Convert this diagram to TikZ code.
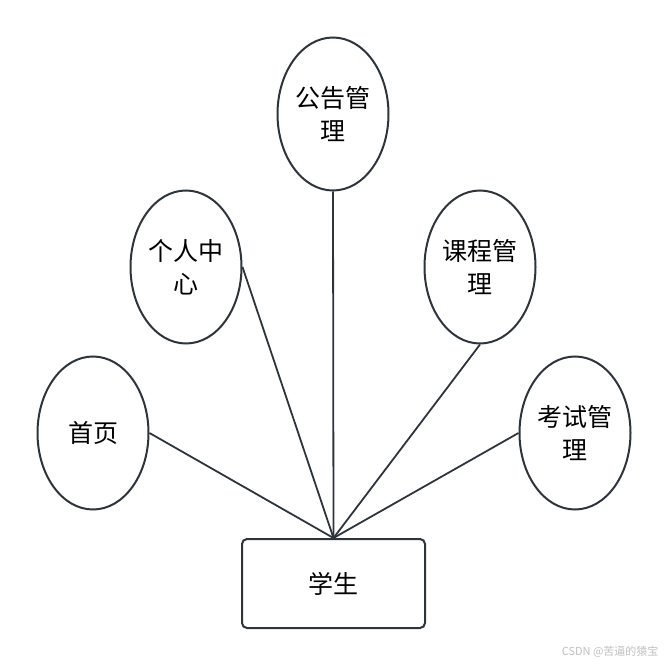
\documentclass[tikz,border=0pt]{standalone}
\usepackage{fontspec}
\usetikzlibrary{shapes.geometric}
\setmainfont{Noto Sans CJK SC}
\definecolor{edgegray}{RGB}{45,52,60}

\begin{document}
\begin{tikzpicture}[x=1pt, y=-1pt,
    func/.style={ellipse, draw=edgegray, line width=2pt, minimum width=111pt, minimum height=153pt, inner sep=0pt, align=center, font=\fontsize{25}{33}\selectfont},
    role/.style={rectangle, rounded corners=5pt, draw=edgegray, line width=2pt, minimum width=183pt, minimum height=89pt, font=\fontsize{25}{33}\selectfont},
    link/.style={draw=edgegray, line width=1.8pt}]
    \useasboundingbox (0, 0) rectangle (667, 666);

    % Draw the role box
    \node[role] (student) at (333.5, 583.5) {学生};

    % Draw the function ellipses
    \node[func] (notice) at (333, 114) {公告管\\理};
    \node[func] (personal) at (186, 267) {个人中\\心};
    \node[func] (course) at (480, 267) {课程管\\理};
    \node[func] (home) at (93, 433) {首页};
    \node[func] (exam) at (575, 433) {考试管\\理};

    % Connect them to the role
    \draw[link] (home.east) -- (student.north);
    \draw[link] (personal.east) -- (student.north);
    \draw[link] (notice.south) -- (student.north);
    \draw[link] (course.south) -- (student.north);
    \draw[link] (exam.west) -- (student.north);

    % Watermark
    \node[text=black!25, font=\fontsize{11}{13}\selectfont, anchor=east] (mark) at (662, 652) {CSDN @苦逼的猿宝};
\end{tikzpicture}
\end{document}
